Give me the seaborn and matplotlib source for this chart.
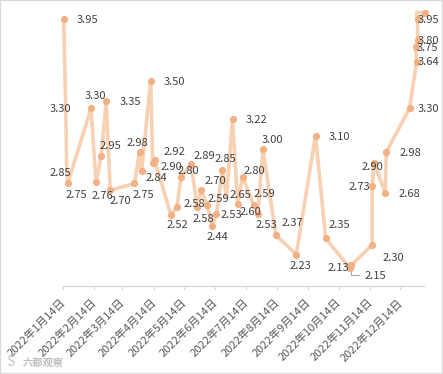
#!/usr/bin/env python3

from matplotlib import pyplot as plt
from matplotlib.patches import Rectangle
from matplotlib.transforms import ScaledTranslation
import pandas as pd
import seaborn as sns

dates = [
    "2022-01-15", "2022-01-17", "2022-01-18", "2022-01-19", "2022-02-11",
    "2022-02-16", "2022-02-21", "2022-02-26", "2022-03-02", "2022-03-26",
    "2022-03-31", "2022-04-02", "2022-04-11", "2022-04-13", "2022-04-15",
    "2022-05-01", "2022-05-07", "2022-05-11", "2022-05-21", "2022-05-27",
    "2022-05-31", "2022-06-06", "2022-06-11", "2022-06-15", "2022-06-21",
    "2022-06-25", "2022-07-01", "2022-07-06", "2022-07-11", "2022-07-22",
    "2022-07-26", "2022-07-31", "2022-08-13", "2022-09-02", "2022-09-21",
    "2022-10-01", "2022-10-25", "2022-10-26", "2022-11-16", "2022-11-16",
    "2022-11-18", "2022-11-29", "2022-11-30", "2022-12-23", "2022-12-30",
    "2022-12-29", "2022-12-31", "2022-12-31", "2022-12-30", "2023-01-07",
]
values = [
    3.95, 3.30, 2.85, 2.75, 3.30, 2.76, 2.95, 3.35, 2.70, 2.75,
    2.98, 2.84, 3.50, 2.90, 2.92, 2.52, 2.58, 2.80, 2.89, 2.58,
    2.70, 2.59, 2.44, 2.53, 2.85, 2.65, 3.22, 2.60, 2.80, 2.59,
    2.53, 3.00, 2.37, 2.23, 3.10, 2.35, 2.13, 2.15, 2.30, 2.73,
    2.90, 2.68, 2.98, 3.30, 3.64, 3.75, 3.80, 3.95, 4.00, 4.00,
]
tick_dates = [
    "2022-01-14", "2022-02-14", "2022-03-14", "2022-04-14", "2022-05-14",
    "2022-06-14", "2022-07-14", "2022-08-14", "2022-09-14", "2022-10-14",
    "2022-11-14", "2022-12-14",
]
tick_labels = [
    "2022年1月14日", "2022年2月14日", "2022年3月14日", "2022年4月14日",
    "2022年5月14日", "2022年6月14日", "2022年7月14日", "2022年8月14日",
    "2022年9月14日", "2022年10月14日", "2022年11月14日", "2022年12月14日",
]

# points drawn on the line with no visible marker in the picture
no_marker = ["2022-01-17", "2022-01-18", "2022-06-25"]

# where each value label sits relative to its point, in pixels
label_offsets = [
    (24, 0), (-5, 0), (-6, -2), (9, -11), (4, 13), (6, -13), (9, 11), (24, 0),
    (10, -10), (9, -11), (-2, 10), (15, -6), (24, 0), (19, -3), (20, 9),
    (7, -9), (17, 4), (7, 7), (13, 9), (6, -11), (14, 10), (11, 7), (5, -10),
    (15, 0), (3, 12), (14, 3), (24, 0), (13, -7), (12, 7), (11, 12), (8, -10),
    (9, 10), (16, 13), (4, -10), (24, 0), (14, 14), (-12, 1), (24, -10),
    (21, -12), (-13, 0), (-2, -3), (24, 0), (24, 0), (19, 0), (12, 1),
    (12, 0), (11, 0), (11, 0), None, (3, 1),
]


def main():
    df = pd.DataFrame({"date": pd.to_datetime(dates), "value": values})
    hidden = df["date"].isin(pd.to_datetime(no_marker))
    hidden.iloc[-2] = True

    sns.set_theme(style="white")
    plt.rcParams["font.family"] = ["Noto Sans CJK SC", "DejaVu Sans"]

    W, H = 443, 374
    fig = plt.figure(figsize=(W / 100, H / 100), dpi=100)
    ax = fig.add_axes([62.7 / W, 1 - 286 / H, 361 / W, 273.4 / H])
    ax.patch.set_alpha(0)

    sns.lineplot(
            df, x="date", y="value", sort=False, estimator=None, ax=ax,
            color="#F8D0B2", linewidth=2.6, clip_on=False,
            )
    sns.scatterplot(
            df[~hidden], x="date", y="value", ax=ax, color="#F2B184", s=27,
            linewidth=0, clip_on=False, zorder=3,
            )

    ax.set_xlim(pd.Timestamp("2022-01-14"), pd.Timestamp("2023-01-06"))
    ax.set_ylim(2.0, 4.0)
    ax.set(xlabel="", ylabel="")
    ax.set_yticks([])
    ax.set_xticks(pd.to_datetime(tick_dates))
    ax.set_xticklabels(
            tick_labels, rotation=45, ha="right", rotation_mode="anchor",
            fontsize=8, color="#595959",
            )
    ax.tick_params(
            axis="x", length=3, width=0.8, color="#D9D9D9", bottom=True, pad=5,
            )
    shift = ScaledTranslation(-3 / 100, 0, fig.dpi_scale_trans)
    for lab in ax.get_xticklabels():
        lab.set_transform(lab.get_transform() + shift)
    sns.despine(ax=ax, left=True)
    ax.spines["bottom"].set_color("#D9D9D9")
    ax.spines["bottom"].set_linewidth(1.0)

    for d, v, off in zip(df["date"], values, label_offsets):
        if off is None:
            continue
        ax.annotate(
                f"{v:.2f}", xy=(d, v), xytext=(off[0], off[1] - 1),
                textcoords="offset pixels", ha="center", va="center",
                fontsize=8, color="#404040", zorder=4,
                )

    # leader line of the 2.15 label
    ax.annotate(
            "", xy=(pd.Timestamp("2022-10-26"), 2.15), xytext=(8, -10),
            textcoords="offset pixels",
            arrowprops=dict(
                arrowstyle="-", color="#A6A6A6", linewidth=0.8,
                connectionstyle="angle,angleA=0,angleB=90,rad=0",
                shrinkA=0, shrinkB=0,
                ),
            zorder=2,
            )

    fig.text(
            23 / W, 1 - 363 / H, "六都观察", fontsize=7.4, color="#BDBDBD",
            ha="left", va="center", fontweight="bold",
            )
    fig.text(
            6 / W, 1 - 362 / H, "S", fontsize=10, color="#C8C8C8",
            ha="left", va="center",
            )
    fig.add_artist(Rectangle(
            (0, 0), 1, 1, transform=fig.transFigure, fill=False,
            edgecolor="#D9D9D9", linewidth=1.6,
            ))

    plt.savefig("out.png", dpi=100)


if __name__ == "__main__":
    main()
